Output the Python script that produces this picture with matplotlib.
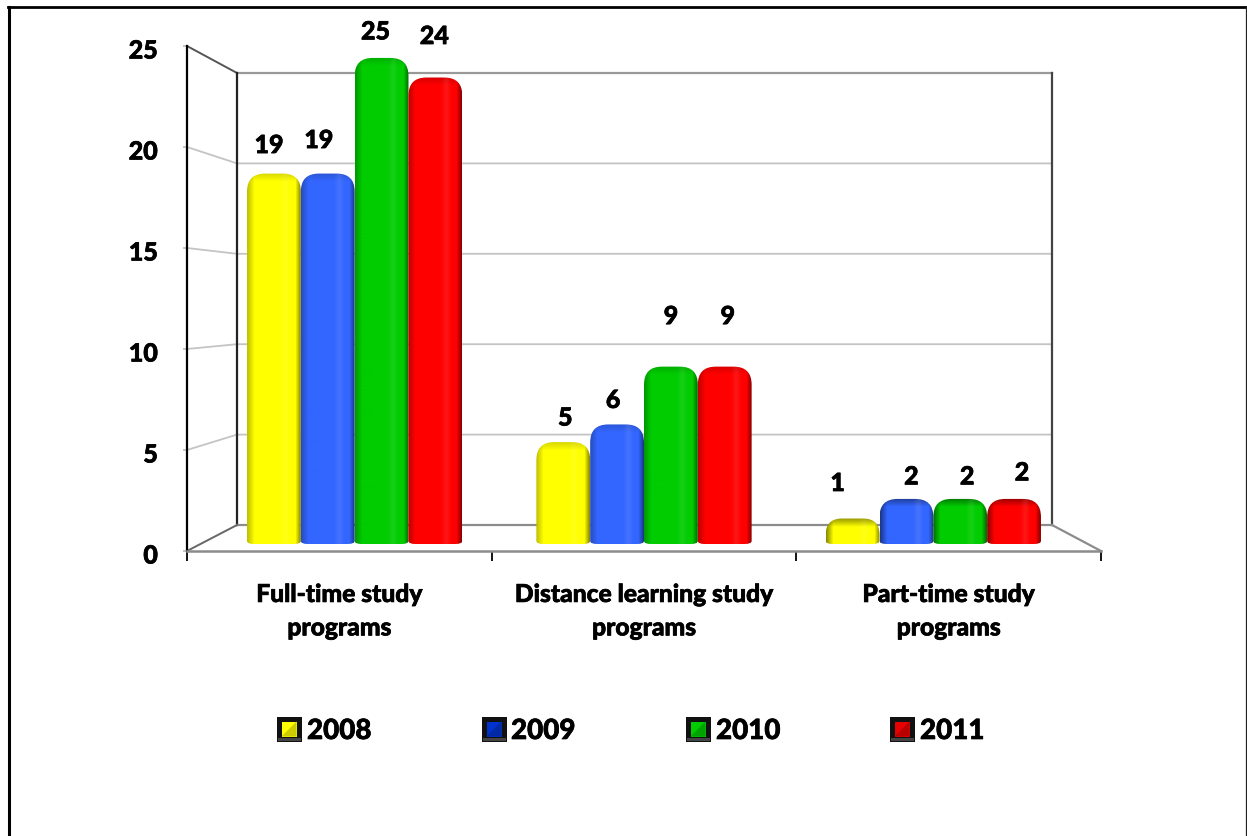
import matplotlib
matplotlib.use('Agg')
import matplotlib.pyplot as plt
import matplotlib.patheffects as pe
import numpy as np
from matplotlib.patches import PathPatch, Rectangle, Polygon
from matplotlib.path import Path
from matplotlib.transforms import ScaledTranslation

plt.rcParams['font.family'] = ['Lato', 'DejaVu Sans']
plt.rcParams['font.weight'] = 'black'

W, H = 1247, 837

categories = ['Full-time study\nprograms', 'Distance learning study\nprograms', 'Part-time study\nprograms']
years = ['2008', '2009', '2010', '2011']
v2008 = [18.9, 5.2, 1.3]
v2009 = [18.9, 6.1, 2.3]
v2010 = [24.8, 9.05, 2.3]
v2011 = [23.8, 9.05, 2.3]
y_ticks = [0, 5, 10, 15, 20, 25]

bar_colors = ['#ffff00', '#3366ff', '#00cc00', '#ff0000']
legend_colors = ['#ffff00', '#0033cc', '#00cc00', '#e60000']
legend_x = [289, 494, 698, 902]
legend_text_x = [307, 511, 716, 920]

# hand placed value labels (px from top centre of bar), chart had them scattered
label_dx = [[-5, -9, -6, -1], [2, -4, 0, 3], [-15, 5, 7, 8]]
label_dy = [[28, 33, 26, 41], [24, 24, 50, 50], [35, 22, 22, 26]]

# 3d box geometry in pixels
FX0, FX1, FY0, FY1 = 187, 1101, 552, 47     # front plane
BX0, BX1, BY0, BY1 = 237, 1052, 526, 74     # back wall
PX0, PX1, PY0 = 210, 1078, 545              # plane the bars stand on
P_SCALE = 19.6
BAR_W = 0.186

# a little stroke, the original text is heavier than any Lato cut
HEAVY = [pe.withStroke(linewidth=0.5, foreground='black')]


def add_axes_px(fig, x0, x1, y_bottom, y_top, **kw):
    return fig.add_axes([x0 / W, 1 - y_bottom / H, (x1 - x0) / W, (y_bottom - y_top) / H], **kw)


def bar_image(color, w, h):
    # fake the bevel: dark sides, soft highlight on the right, dark top edge
    rgb = np.array(matplotlib.colors.to_rgb(color))
    x = np.arange(w)
    y = np.arange(h)
    short = h < 60
    left = 0.55 if short else 0.75
    top = 0.6 if short else 0.85
    fx = np.ones(w)
    fx = np.minimum(fx, left + (1 - left) * np.clip(x / 7, 0, 1))
    fx = np.minimum(fx, 0.55 + 0.45 * np.clip((w - 1 - x) / 5, 0, 1))
    glow = np.exp(-((x - 0.7 * w) / 3.5) ** 2) * 0.08
    fy = top + (1 - top) * np.clip(y / 8, 0, 1)
    shade = np.outer(fy, fx)
    img = rgb[None, None, :] * shade[:, :, None]
    img = img + (1 - img) * glow[None, :, None]
    return np.clip(img, 0, 1)


def rounded_bar_path(x0, x1, top, rx, ry, rxb, ryb):
    verts = [(x0 + rxb, 0), (x1 - rxb, 0), (x1, 0), (x1, ryb),
             (x1, top - ry), (x1, top), (x1 - rx, top),
             (x0 + rx, top), (x0, top), (x0, top - ry),
             (x0, ryb), (x0, 0), (x0 + rxb, 0), (x0 + rxb, 0)]
    codes = [Path.MOVETO, Path.LINETO, Path.CURVE3, Path.CURVE3,
             Path.LINETO, Path.CURVE3, Path.CURVE3,
             Path.LINETO, Path.CURVE3, Path.CURVE3,
             Path.LINETO, Path.CURVE3, Path.CURVE3, Path.CLOSEPOLY]
    return Path(verts, codes)


fig = plt.figure(figsize=(W / 100, H / 100), dpi=100, facecolor='white')

# walls, floor and outer frame, pixel coords
bg = fig.add_axes([0, 0, 1, 1], zorder=0)
bg.set_xlim(0, W)
bg.set_ylim(H, 0)
bg.axis('off')

bg.plot([9, 9], [8, H], color='black', lw=2.2)
bg.plot([8, 1245.5], [8, 8], color='black', lw=2.0)
bg.plot([1245.5, 1245.5], [8, H], color='#222222', lw=0.9)

for v in y_ticks[1:-1]:
    fy = FY0 + (FY1 - FY0) * v / 25
    by = BY0 + (BY1 - BY0) * v / 25
    bg.plot([FX0, BX0, BX1], [fy, by, by], color='#c4c4c4', lw=1.3)

bg.plot([BX0, BX1], [BY1, BY1], color='#999999', lw=1.6)
bg.plot([FX0, BX0], [FY1, BY1], color='#555555', lw=1.4)
bg.plot([BX0, BX0], [BY0, BY1], color='#222222', lw=1.6)
bg.plot([BX1, BX1], [BY0, BY1], color='#444444', lw=1.6)
bg.plot([BX0, BX1], [BY0, BY0], color='#8c8c8c', lw=1.6)
bg.plot([FX0, BX0], [FY0, BY0], color='#666666', lw=1.4)
bg.plot([FX1, BX1], [FY0, BY0], color='#8c8c8c', lw=1.6)

# front plane carries the real axes
ax = add_axes_px(fig, FX0, FX1, FY0, FY1, zorder=1)
ax.patch.set_alpha(0)
ax.set_xlim(0, 3)
ax.set_ylim(0, 25)
for s in ['top', 'right']:
    ax.spines[s].set_visible(False)
ax.spines['left'].set_color('black')
ax.spines['left'].set_linewidth(1.6)
ax.spines['bottom'].set_color('#8c8c8c')
ax.spines['bottom'].set_linewidth(1.8)
ax.set_yticks(y_ticks)
ax.set_yticklabels([str(t) for t in y_ticks], fontsize=18, fontweight='black', path_effects=HEAVY)
ax.tick_params(axis='y', length=3, width=1.2, color='#bbbbbb', pad=18)
shift = ScaledTranslation(0, -3 / 100, fig.dpi_scale_trans)
for lab in ax.get_yticklabels():
    lab.set_transform(lab.get_transform() + shift)
ax.set_xticks([0, 1, 2, 3])
ax.set_xticklabels([])
ax.tick_params(axis='x', which='major', length=7, width=1.3, color='black')
ax.set_xticks([0.5, 1.5, 2.5], minor=True)
ax.set_xticklabels(categories, minor=True, fontsize=17.7, fontweight='black', linespacing=1.55,
                   path_effects=HEAVY)
ax.tick_params(axis='x', which='minor', length=0, pad=23)

# bars live on a plane a bit behind the front
ax2 = add_axes_px(fig, PX0, PX1, PY0, PY0 - 25 * P_SCALE, zorder=2)
ax2.patch.set_alpha(0)
ax2.axis('off')
ax2.set_xlim(0, 3)
ax2.set_ylim(0, 25)

series = [v2008, v2009, v2010, v2011]
px_x = (PX1 - PX0) / 3
for j, vals in enumerate(series):
    for i, v in enumerate(vals):
        x0 = i + 0.5 + (j - 2) * BAR_W
        x1 = x0 + BAR_W
        w_px = int(round(BAR_W * px_x))
        h_px = max(int(round(v * P_SCALE)), 2)
        im = ax2.imshow(bar_image(bar_colors[j], w_px, h_px), extent=[x0, x1, 0, v],
                        aspect='auto', interpolation='bilinear', zorder=2 + j)
        r_px = min(18, h_px * 0.65)
        patch = PathPatch(rounded_bar_path(x0, x1, v, r_px / px_x, r_px / P_SCALE,
                                           7 / px_x, 3 / P_SCALE),
                          transform=ax2.transData, facecolor='none', edgecolor='none')
        ax2.add_patch(patch)
        im.set_clip_path(patch)
        ax2.annotate(f'{v:.0f}', xy=((x0 + x1) / 2, v),
                     xytext=(label_dx[i][j], label_dy[i][j]), textcoords='offset pixels',
                     ha='center', va='center', fontsize=18, fontweight='black',
                     zorder=10, annotation_clip=False, path_effects=HEAVY)
ax2.set_xlim(0, 3)
ax2.set_ylim(0, 25)

# legend is unevenly spaced in the original so place by hand
fg = fig.add_axes([0, 0, 1, 1], zorder=3)
fg.set_xlim(0, W)
fg.set_ylim(H, 0)
fg.axis('off')
for cx, tx, c, yr in zip(legend_x, legend_text_x, legend_colors, years):
    s = 12.5
    fg.add_patch(Rectangle((cx - s, 730 - s), 2 * s, 2 * s, facecolor='#111111', edgecolor='none'))
    i = 7.5
    fg.add_patch(Rectangle((cx - i, 730 - i), 2 * i, 2 * i, facecolor=c, edgecolor='none'))
    dark = tuple(0.8 * np.array(matplotlib.colors.to_rgb(c)))
    fg.add_patch(Polygon([(cx + i, 730 - i), (cx + i, 730 + i), (cx - i, 730 + i), (cx, 730)],
                         facecolor=dark, edgecolor='none'))
    fg.add_patch(Rectangle((cx - s + 1, 730 + s - 4), 2 * s - 2, 3, facecolor='#444444', edgecolor='none'))
    fg.text(tx, 732, yr, fontsize=20, fontweight='black', ha='left', va='center', path_effects=HEAVY)

fig.savefig('out.png', dpi=100)
